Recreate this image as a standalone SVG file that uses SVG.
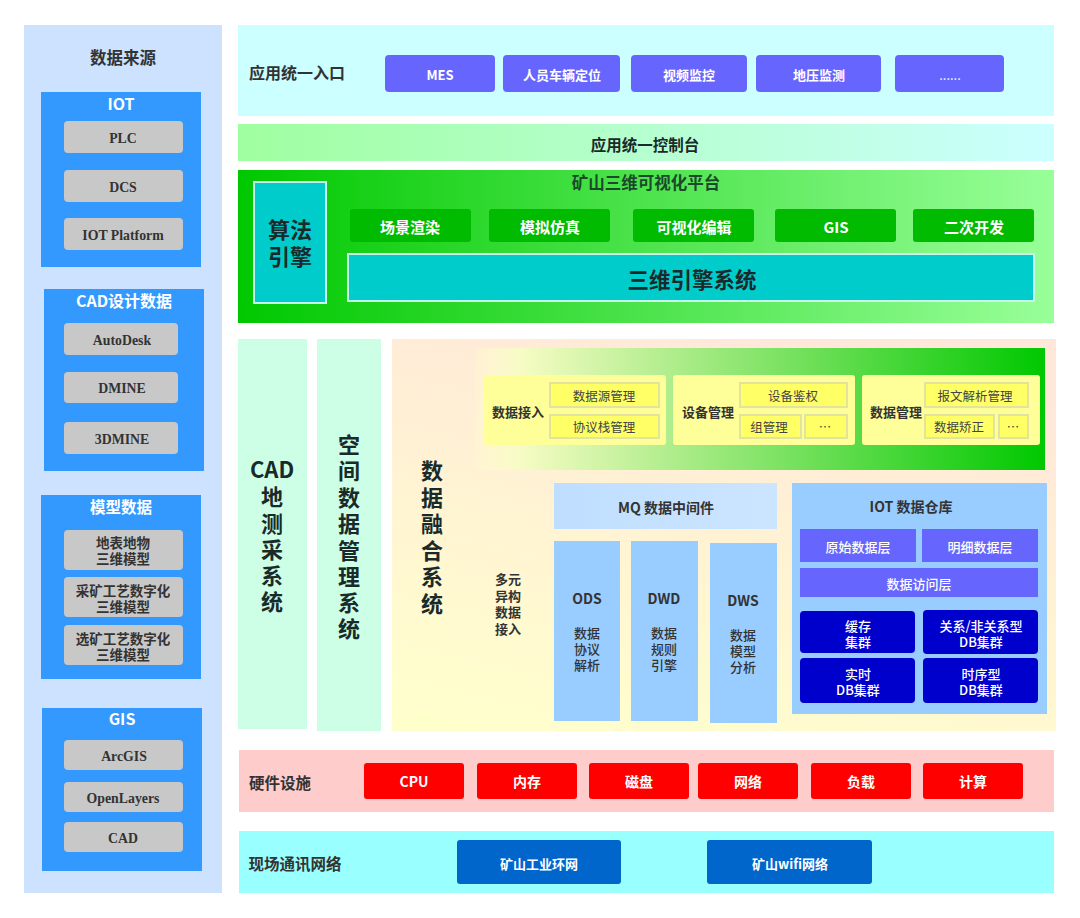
<svg xmlns="http://www.w3.org/2000/svg" width="1080" height="918" viewBox="0 0 1080 918">
<defs>
<linearGradient id="gConsole" x1="0" y1="0" x2="1" y2="0"><stop offset="0" stop-color="#a0ffa0"/><stop offset="1" stop-color="#ccffff"/></linearGradient>
<linearGradient id="gPlatform" x1="0" y1="0" x2="1" y2="0"><stop offset="0" stop-color="#00c800"/><stop offset="1" stop-color="#99ff99"/></linearGradient>
<linearGradient id="gFusion" x1="0.15" y1="1" x2="0.55" y2="0"><stop offset="0" stop-color="#ffffcc"/><stop offset="1" stop-color="#ffe8da"/></linearGradient>
<linearGradient id="gBand" x1="0" y1="0" x2="1" y2="0"><stop offset="0" stop-color="#ffffcc" stop-opacity="0.2"/><stop offset="0.08" stop-color="#f6fcc4"/><stop offset="1" stop-color="#00c800"/></linearGradient>
<linearGradient id="gMq" x1="0" y1="0" x2="1" y2="0"><stop offset="0" stop-color="#bfdeff"/><stop offset="1" stop-color="#cce5ff"/></linearGradient>
</defs>
<style>
text{font-family:"Noto Sans CJK SC","Noto Sans",sans-serif;font-weight:700;text-anchor:middle;dominant-baseline:central;transform:translateY(-1px)}
.d{fill:#333}.k{fill:#1a2a2a}.w{fill:#fff}
.s13{font-size:13px}.s135{font-size:13.5px}.s14{font-size:14px}.s15{font-size:15px}.s155{font-size:15.5px}.s16{font-size:16px}.s165{font-size:16.5px}.s21{font-size:21.5px}.s22{font-size:22px}
.src{fill:#3399ff}
.gray{fill:#c8c8c8;rx:4px}
.sv{font-family:"Liberation Serif",serif;font-size:13.8px;fill:#333}
.pur{fill:#6666ff;rx:4px}
.grn{fill:#00bb00;rx:3px}
.red{fill:#ff0000;rx:3px}
.blu{fill:#0066cc;rx:3px}
.card{fill:#ffff99;rx:3px}
.cell{fill:#ffff66;stroke:#e3e3a0;stroke-width:2}
.col{fill:#99ccff}
.lay{fill:#6666ff}
.dark{fill:#0000cc;rx:4px}
.cy{fill:#00cccc;stroke:#c4f5ee;stroke-width:2}
.teal{fill:#ccffe5}
.it{font-size:12.5px;fill:#444;font-weight:400}
.cl{font-size:13px;fill:#333;font-weight:500}
.wt{font-size:13px;fill:#fff;font-weight:500}
</style>

<g id="source-panel">
<rect x="24" y="25" width="198" height="868" fill="#cce2ff"/>
<text x="123" y="58" class="s165 d">数据来源</text>
</g>
<g id="src-iot">
<rect class="src" x="41" y="92" width="160" height="175"/>
<text x="121" y="104" class="s16 w">IOT</text>
<rect class="gray" x="64" y="121" width="119" height="32"/><text x="123" y="139" class="sv">PLC</text>
<rect class="gray" x="64" y="170" width="119" height="32"/><text x="123" y="188" class="sv">DCS</text>
<rect class="gray" x="64" y="218" width="119" height="32"/><text x="123" y="236" class="sv">IOT Platform</text>
</g>
<g id="src-cad">
<rect class="src" x="44" y="289" width="160" height="182"/>
<text x="124" y="301" class="s16 w">CAD设计数据</text>
<rect class="gray" x="64" y="323" width="114" height="32"/><text x="122" y="341" class="sv">AutoDesk</text>
<rect class="gray" x="64" y="372" width="114" height="31"/><text x="122" y="389" class="sv">DMINE</text>
<rect class="gray" x="64" y="422" width="114" height="32"/><text x="122" y="440" class="sv">3DMINE</text>
</g>
<g id="src-model">
<rect class="src" x="41" y="495" width="160" height="184"/>
<text x="121" y="507" class="s155 w">模型数据</text>
<rect class="gray" x="64" y="530" width="119" height="40"/><text class="s135 d"><tspan x="123" y="543">地表地物</tspan><tspan x="123" y="559">三维模型</tspan></text>
<rect class="gray" x="64" y="577" width="119" height="40"/><text class="s135 d"><tspan x="123" y="591">采矿工艺数字化</tspan><tspan x="123" y="607">三维模型</tspan></text>
<rect class="gray" x="64" y="625" width="119" height="40"/><text class="s135 d"><tspan x="123" y="639">选矿工艺数字化</tspan><tspan x="123" y="655">三维模型</tspan></text>
</g>
<g id="src-gis">
<rect class="src" x="42" y="708" width="160" height="163"/>
<text x="122" y="719" class="s16 w">GIS</text>
<rect class="gray" x="64" y="740" width="119" height="30"/><text x="124" y="757" class="sv">ArcGIS</text>
<rect class="gray" x="64" y="782" width="119" height="30"/><text x="123" y="799" class="sv">OpenLayers</text>
<rect class="gray" x="64" y="822" width="119" height="30"/><text x="123" y="839" class="sv">CAD</text>
</g>

<g id="app-entry">
<rect x="238" y="25" width="816" height="91" fill="#ccffff"/>
<text x="297" y="73" class="s16 d">应用统一入口</text>
<rect class="pur" x="385" y="55" width="110" height="37"/><text x="440" y="75" class="s13 w">MES</text>
<rect class="pur" x="503" y="55" width="117" height="37"/><text x="562" y="75" class="s13 w">人员车辆定位</text>
<rect class="pur" x="631" y="55" width="116" height="37"/><text x="689" y="75" class="s13 w">视频监控</text>
<rect class="pur" x="756" y="55" width="125" height="37"/><text x="819" y="75" class="s13 w">地压监测</text>
<rect class="pur" x="895" y="55" width="109" height="37"/><text x="950" y="75" class="wt" style="font-weight:400">......</text>
</g>
<g id="app-console">
<rect x="238" y="124" width="816" height="37" fill="url(#gConsole)"/>
<text x="645" y="145" class="s155 k">应用统一控制台</text>
</g>
<g id="platform">
<rect x="238" y="170" width="816" height="153" fill="url(#gPlatform)"/>
<text x="646" y="183" class="s165" fill="#1a4a2a">矿山三维可视化平台</text>
<rect class="cy" x="254" y="182" width="72" height="121"/>
<text class="s22 k"><tspan x="290" y="229">算法</tspan><tspan x="290" y="256">引擎</tspan></text>
<rect class="grn" x="350" y="209" width="121" height="33"/><text x="410" y="227" class="s15 w">场景渲染</text>
<rect class="grn" x="489" y="209" width="121" height="33"/><text x="550" y="227" class="s15 w">模拟仿真</text>
<rect class="grn" x="633" y="209" width="121" height="33"/><text x="694" y="227" class="s15 w">可视化编辑</text>
<rect class="grn" x="775" y="209" width="121" height="33"/><text x="836" y="227" class="s15 w">GIS</text>
<rect class="grn" x="913" y="209" width="121" height="33"/><text x="974" y="227" class="s15 w">二次开发</text>
<rect class="cy" x="348" y="254" width="686" height="47"/>
<text x="692" y="279" class="s21 k">三维引擎系统</text>
</g>

<g id="cad-survey">
<rect class="teal" x="238" y="339" width="69" height="390"/>
<text class="s22 k"><tspan x="272" y="469">CAD</tspan><tspan x="272" y="496">地</tspan><tspan x="272" y="523">测</tspan><tspan x="272" y="549">采</tspan><tspan x="272" y="575">系</tspan><tspan x="272" y="601">统</tspan></text>
</g>
<g id="spatial-data">
<rect class="teal" x="317" y="339" width="64" height="392"/>
<text class="s22 k"><tspan x="349" y="444">空</tspan><tspan x="349" y="470">间</tspan><tspan x="349" y="497">数</tspan><tspan x="349" y="523">据</tspan><tspan x="349" y="550">管</tspan><tspan x="349" y="576">理</tspan><tspan x="349" y="602">系</tspan><tspan x="349" y="628">统</tspan></text>
</g>
<g id="data-fusion">
<rect x="392" y="339" width="664" height="392" fill="url(#gFusion)"/>
<text class="s22 k"><tspan x="432" y="470">数</tspan><tspan x="432" y="497">据</tspan><tspan x="432" y="523">融</tspan><tspan x="432" y="550">合</tspan><tspan x="432" y="576">系</tspan><tspan x="432" y="603">统</tspan></text>
<rect x="475" y="348" width="570" height="122" fill="url(#gBand)"/>
</g>
<g id="card-access">
<rect class="card" x="484" y="375" width="182" height="70"/>
<text x="518" y="412" class="s13 d">数据接入</text>
<rect class="cell" x="550" y="383" width="109" height="24"/><text x="604" y="396" class="it">数据源管理</text>
<rect class="cell" x="550" y="415" width="109" height="23"/><text x="604" y="427" class="it">协议栈管理</text>
</g>
<g id="card-device">
<rect class="card" x="673" y="375" width="182" height="70"/>
<text x="708" y="412" class="s13 d">设备管理</text>
<rect class="cell" x="740" y="383" width="107" height="24"/><text x="793" y="396" class="it">设备鉴权</text>
<rect class="cell" x="740" y="415" width="61" height="23"/><text x="769" y="427" class="it">组管理</text>
<rect class="cell" x="805" y="415" width="42" height="23"/><text x="825" y="427" class="it">…</text>
</g>
<g id="card-data">
<rect class="card" x="862" y="375" width="178" height="70"/>
<text x="896" y="412" class="s13 d">数据管理</text>
<rect class="cell" x="925" y="383" width="103" height="24"/><text x="975" y="396" class="it">报文解析管理</text>
<rect class="cell" x="925" y="415" width="69" height="23"/><text x="959" y="427" class="it">数据矫正</text>
<rect class="cell" x="999" y="415" width="29" height="23"/><text x="1013" y="427" class="it">…</text>
</g>
<g id="multi-source">
<text class="s13 d"><tspan x="508" y="579">多元</tspan><tspan x="508" y="596">异构</tspan><tspan x="508" y="612">数据</tspan><tspan x="508" y="629">接入</tspan></text>
</g>
<g id="mq">
<rect x="554" y="483" width="223" height="46" fill="url(#gMq)"/>
<text x="666" y="508" class="s14 d">MQ 数据中间件</text>
</g>
<g id="ods">
<rect class="col" x="554" y="541" width="66" height="180"/>
<text x="587" y="599" class="s14 d">ODS</text><text class="cl"><tspan x="587" y="633">数据</tspan><tspan x="587" y="649">协议</tspan><tspan x="587" y="665">解析</tspan></text>
</g>
<g id="dwd">
<rect class="col" x="631" y="541" width="67" height="180"/>
<text x="664" y="599" class="s14 d">DWD</text><text class="cl"><tspan x="664" y="633">数据</tspan><tspan x="664" y="649">规则</tspan><tspan x="664" y="665">引擎</tspan></text>
</g>
<g id="dws">
<rect class="col" x="710" y="543" width="67" height="180"/>
<text x="743" y="601" class="s14 d">DWS</text><text class="cl"><tspan x="743" y="635">数据</tspan><tspan x="743" y="651">模型</tspan><tspan x="743" y="667">分析</tspan></text>
</g>
<g id="iot-warehouse">
<rect class="col" x="792" y="483" width="255" height="231"/>
<text x="911" y="507" class="s14 d">IOT 数据仓库</text>
<rect class="lay" x="800" y="529" width="116" height="33"/><text x="858" y="547" class="wt">原始数据层</text>
<rect class="lay" x="922" y="529" width="116" height="33"/><text x="980" y="547" class="wt">明细数据层</text>
<rect class="lay" x="800" y="568" width="238" height="29"/><text x="919" y="584" class="wt">数据访问层</text>
<rect class="dark" x="800" y="611" width="115" height="42"/><text class="wt"><tspan x="858" y="626">缓存</tspan><tspan x="858" y="642">集群</tspan></text>
<rect class="dark" x="923" y="610" width="115" height="44"/><text class="wt"><tspan x="981" y="626">关系/非关系型</tspan><tspan x="981" y="642">DB集群</tspan></text>
<rect class="dark" x="800" y="658" width="115" height="45"/><text class="wt"><tspan x="858" y="674">实时</tspan><tspan x="858" y="690">DB集群</tspan></text>
<rect class="dark" x="923" y="658" width="115" height="45"/><text class="wt"><tspan x="981" y="674">时序型</tspan><tspan x="981" y="690">DB集群</tspan></text>
</g>

<g id="hardware">
<rect x="239" y="750" width="815" height="62" fill="#ffcccc"/>
<text x="280" y="783" class="s155 d">硬件设施</text>
<rect class="red" x="364" y="763" width="100" height="36"/><text x="414" y="782" class="s14 w">CPU</text>
<rect class="red" x="477" y="763" width="100" height="36"/><text x="527" y="782" class="s14 w">内存</text>
<rect class="red" x="589" y="763" width="100" height="36"/><text x="639" y="782" class="s14 w">磁盘</text>
<rect class="red" x="698" y="763" width="100" height="36"/><text x="748" y="782" class="s14 w">网络</text>
<rect class="red" x="811" y="763" width="100" height="36"/><text x="861" y="782" class="s14 w">负载</text>
<rect class="red" x="923" y="763" width="100" height="36"/><text x="973" y="782" class="s14 w">计算</text>
</g>
<g id="network">
<rect x="239" y="831" width="815" height="62" fill="#99ffff"/>
<text x="295" y="864" class="s155 d">现场通讯网络</text>
<rect class="blu" x="457" y="840" width="164" height="44"/><text x="539" y="864" class="s13 w">矿山工业环网</text>
<rect class="blu" x="707" y="840" width="165" height="44"/><text x="790" y="864" class="s13 w">矿山wifi网络</text>
</g>
</svg>
